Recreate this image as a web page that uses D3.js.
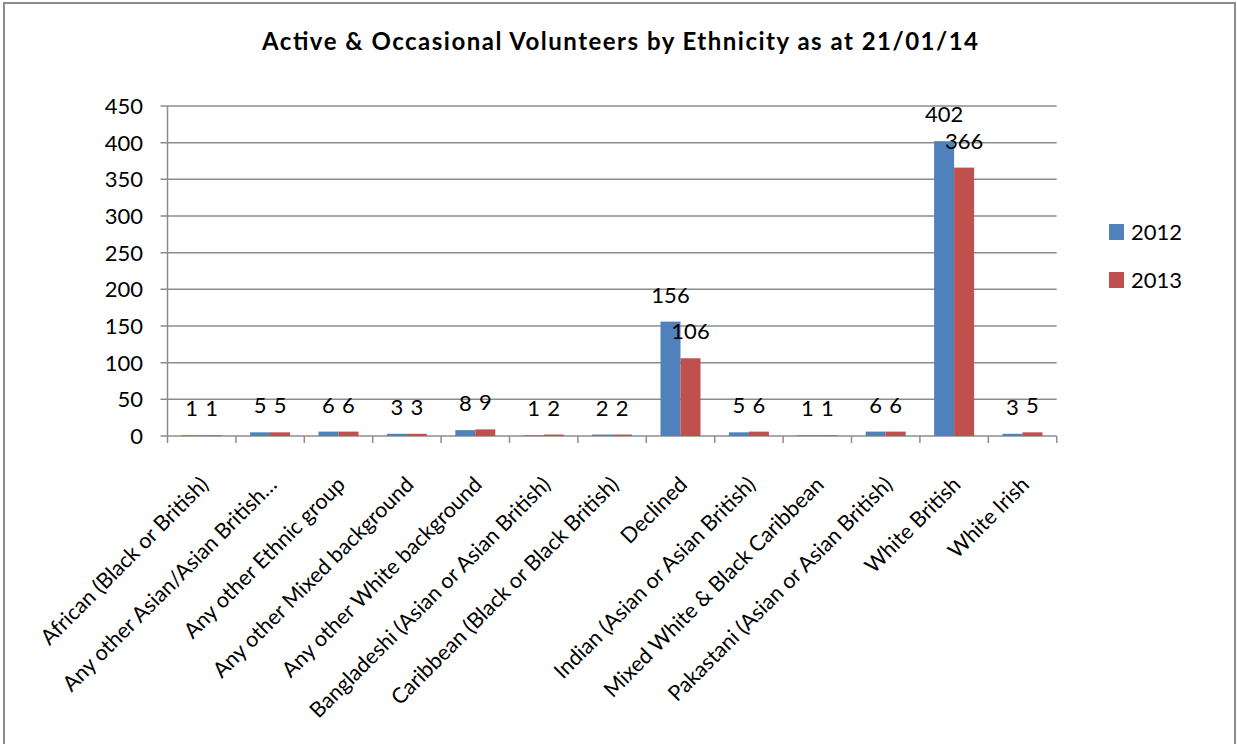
<!DOCTYPE html>
<html><head><meta charset="utf-8">
<script src="https://cdn.jsdelivr.net/npm/d3@7"></script>
<style>
html,body{margin:0;padding:0;background:#fff;}
text{font-family:Lato,"Open Sans",sans-serif;fill:#000;}
</style></head>
<body>
<svg id="chart" width="1237" height="744"></svg>
<script>
const categories = ["African (Black or British)", "Any other Asian/Asian British…", "Any other Ethnic group", "Any other Mixed background", "Any other White background", "Bangladeshi (Asian or Asian British)", "Caribbean (Black or Black British)", "Declined", "Indian (Asian or Asian British)", "Mixed White & Black Caribbean", "Pakastani (Asian or Asian British)", "White British", "White Irish"];
const seriesNames = ["2012", "2013"];
const values2012 = [1, 5, 6, 3, 8, 1, 2, 156, 5, 1, 6, 402, 3];
const values2013 = [1, 5, 6, 3, 9, 2, 2, 106, 6, 1, 6, 366, 5];
const yTicks = [0, 50, 100, 150, 200, 250, 300, 350, 400, 450];
const titleText = "Active & Occasional Volunteers by Ethnicity as at 21/01/14";
const colors = ["#4f81bd", "#c0504d"];

(function () {
const series = [values2012, values2013];
const svg = d3.select("#chart");

svg.append("rect").attr("x", 4).attr("y", 3).attr("width", 1231).attr("height", 760)
  .attr("fill", "none").attr("stroke", "#8c8c8c").attr("stroke-width", 2);

const pL = 167.5, pR = 1056.7, pT = 106, pB = 436;
const x = d3.scaleBand().domain(categories).range([pL, pR]).paddingInner(0).paddingOuter(0);
const y = d3.scaleLinear().domain([0, 450]).range([pB, pT]);
const barW = 20;
const xs = d3.scaleBand().domain(seriesNames).range([0, barW * 2]);

svg.append("g").selectAll("line").data(yTicks).join("line")
  .attr("x1", pL - 7).attr("x2", pR)
  .attr("y1", d => y(d)).attr("y2", d => y(d))
  .attr("stroke", "#8c8c8c").attr("stroke-width", 1.5);

svg.append("line").attr("x1", pL).attr("x2", pL).attr("y1", pT).attr("y2", pB)
  .attr("stroke", "#8c8c8c").attr("stroke-width", 1.5);

svg.append("g").selectAll("text").data(yTicks).join("text")
  .attr("x", 143).attr("y", d => y(d)).attr("dy", "0.36em")
  .attr("text-anchor", "end").style("font-size", "22px").text(d => d);

const xTickPos = categories.map(c => x(c)).concat([pR]);
svg.append("g").selectAll("line").data(xTickPos).join("line")
  .attr("x1", d => d).attr("x2", d => d).attr("y1", pB).attr("y2", pB + 7)
  .attr("stroke", "#8c8c8c").attr("stroke-width", 1.5);

seriesNames.forEach((s, si) => {
  const g = svg.append("g");
  g.selectAll("rect").data(series[si]).join("rect")
    .attr("x", (d, i) => x(categories[i]) + x.bandwidth() / 2 - barW + xs(s))
    .attr("y", d => y(d))
    .attr("width", barW)
    .attr("height", d => pB - y(d))
    .attr("fill", colors[si]);
  g.selectAll("text").data(series[si]).join("text")
    .attr("x", (d, i) => x(categories[i]) + x.bandwidth() / 2 - barW + xs(s) + barW / 2)
    .attr("y", d => y(d) - 19)
    .attr("text-anchor", "middle").style("font-size", "22px").text(d => d);
});

svg.append("g").selectAll("text").data(categories).join("text")
  .attr("transform", d => `translate(${x(d) + x.bandwidth() / 2 + 8},${486}) rotate(-45)`)
  .attr("text-anchor", "end").style("font-size", "21.5px").text(d => d);

svg.append("text").attr("x", 620).attr("y", 50).attr("text-anchor", "middle")
  .attr("textLength", 716).attr("lengthAdjust", "spacing")
  .style("font-size", "24px").style("font-weight", "bold").text(titleText);

const lg = svg.append("g");
seriesNames.forEach((s, i) => {
  lg.append("rect").attr("x", 1109).attr("y", 224 + i * 48).attr("width", 15).attr("height", 16).attr("fill", colors[i]);
  lg.append("text").attr("x", 1131).attr("y", 240 + i * 48).style("font-size", "22px").text(s);
});
})();
</script>
</body></html>
